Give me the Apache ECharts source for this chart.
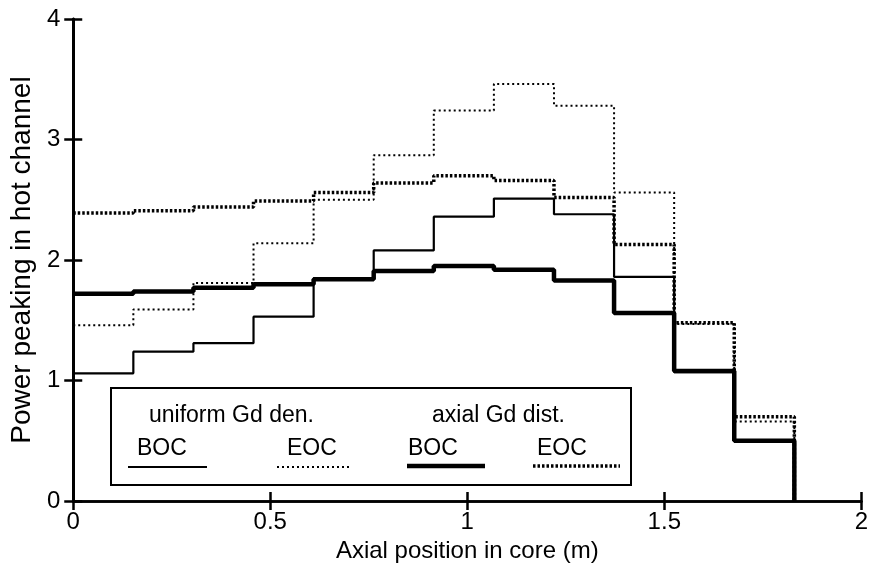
<!DOCTYPE html>
<html>
<head>
<meta charset="utf-8">
<script src="https://cdn.jsdelivr.net/npm/echarts@6/dist/echarts.min.js"></script>
<style>
  html, body { margin: 0; padding: 0; background: #fff; }
  #chart { width: 871px; height: 568px; }
</style>
</head>
<body>
<div id="chart"></div>
<script>
// Node boundaries along the core (m): 12 axial nodes of equal height
const edges = [0, 0.1525, 0.305, 0.4575, 0.61, 0.7625, 0.915, 1.0675, 1.22, 1.3725, 1.525, 1.6775, 1.83];

// Hot-channel power peaking per axial node
const uniformBOC = [1.06, 1.24, 1.31, 1.53, 1.85, 2.08, 2.36, 2.51, 2.38, 1.86, 1.07, 0.50];
const uniformEOC = [1.46, 1.59, 1.81, 2.14, 2.50, 2.87, 3.24, 3.46, 3.28, 2.56, 1.47, 0.66];
const axialBOC   = [1.72, 1.74, 1.77, 1.80, 1.84, 1.91, 1.95, 1.92, 1.83, 1.56, 1.08, 0.50];
const axialEOC   = [2.39, 2.41, 2.44, 2.49, 2.56, 2.64, 2.70, 2.66, 2.52, 2.13, 1.48, 0.70];

const xTicks = ['0', '0.5', '1', '1.5', '2'];
const yTicks = ['0', '1', '2', '3', '4'];

// Turn per-node values into a histogram-style outline that closes at the core top
function stepOutline(vals) {
  const pts = [];
  vals.forEach((v, i) => {
    pts.push([edges[i], v]);
    pts.push([edges[i + 1], v]);
  });
  pts.push([edges[edges.length - 1], 0]);
  return pts;
}

const FONT = '"Liberation Sans", Arial, Helvetica, sans-serif';
const chart = echarts.init(document.getElementById('chart'), null, { renderer: 'canvas' });

const axisLine = { show: true, lineStyle: { color: '#000', width: 2.5 } };
const axisTick = { show: true, inside: true, length: 9, lineStyle: { color: '#000', width: 2.5 } };

function lineSeries(name, vals, width, dash, z) {
  return {
    name, type: 'line', data: stepOutline(vals), symbol: 'none', z,
    lineStyle: { color: '#000', width, type: dash },
    animation: false
  };
}

function legendText(text, x, y) {
  return { type: 'text', z: 21, x, y,
    style: { text, font: '23px ' + FONT, fill: '#000', verticalAlign: 'middle' } };
}

chart.setOption({
  backgroundColor: '#fff',
  animation: false,
  grid: { left: 70, right: 9, top: 19, bottom: 64 },
  xAxis: [
    {
      type: 'value', min: 0, max: 2, interval: 0.5,
      name: 'Axial position in core (m)', nameLocation: 'middle', nameGap: 34,
      nameTextStyle: { fontFamily: FONT, fontSize: 24, color: '#000' },
      axisLine, axisTick, splitLine: { show: false },
      axisLabel: { fontFamily: FONT, fontSize: 24, color: '#000', margin: 9,
        formatter: v => xTicks[Math.round(v / 0.5)] }
    },
    {
      type: 'value', min: 0, max: 2, interval: 0.5, position: 'top',
      axisLine, axisTick, splitLine: { show: false }, axisLabel: { show: false }
    }
  ],
  yAxis: [
    {
      type: 'value', min: 0, max: 4, interval: 1,
      name: 'Power peaking in hot channel', nameLocation: 'middle', nameGap: 36,
      nameTextStyle: { fontFamily: FONT, fontSize: 28, color: '#000' },
      axisLine: { show: true, lineStyle: { color: '#000', width: 3 } }, axisTick, splitLine: { show: false },
      axisLabel: { fontFamily: FONT, fontSize: 24, color: '#000', margin: 13,
        formatter: v => yTicks[Math.round(v)] }
    },
    {
      type: 'value', min: 0, max: 4, interval: 1, position: 'right',
      axisLine, axisTick, splitLine: { show: false }, axisLabel: { show: false }
    }
  ],
  series: [
    lineSeries('uniform Gd den. BOC', uniformBOC, 2.2, 'solid', 3),
    lineSeries('uniform Gd den. EOC', uniformEOC, 2, [2, 3], 2),
    lineSeries('axial Gd dist. BOC', axialBOC, 4.5, 'solid', 4),
    lineSeries('axial Gd dist. EOC', axialEOC, 3.5, [2.5, 2], 2)
  ],
  graphic: [
    { type: 'rect', z: 20, shape: { x: 111, y: 388, width: 520, height: 97 },
      style: { fill: '#fff', stroke: '#000', lineWidth: 2 } },
    legendText('uniform Gd den.', 149, 416),
    legendText('axial Gd dist.', 432, 416),
    legendText('BOC', 137, 449),
    legendText('EOC', 287, 449),
    legendText('BOC', 408, 449),
    legendText('EOC', 537, 449),
    { type: 'line', z: 21, shape: { x1: 128, y1: 467, x2: 207, y2: 467 },
      style: { stroke: '#000', lineWidth: 2.2 } },
    { type: 'line', z: 21, shape: { x1: 277, y1: 467, x2: 352, y2: 467 },
      style: { stroke: '#000', lineWidth: 2, lineDash: [2, 3] } },
    { type: 'line', z: 21, shape: { x1: 407, y1: 466, x2: 485, y2: 466 },
      style: { stroke: '#000', lineWidth: 4.5 } },
    { type: 'line', z: 21, shape: { x1: 533, y1: 466, x2: 620, y2: 466 },
      style: { stroke: '#000', lineWidth: 3.5, lineDash: [2.5, 2] } }
  ]
});
</script>
</body>
</html>
